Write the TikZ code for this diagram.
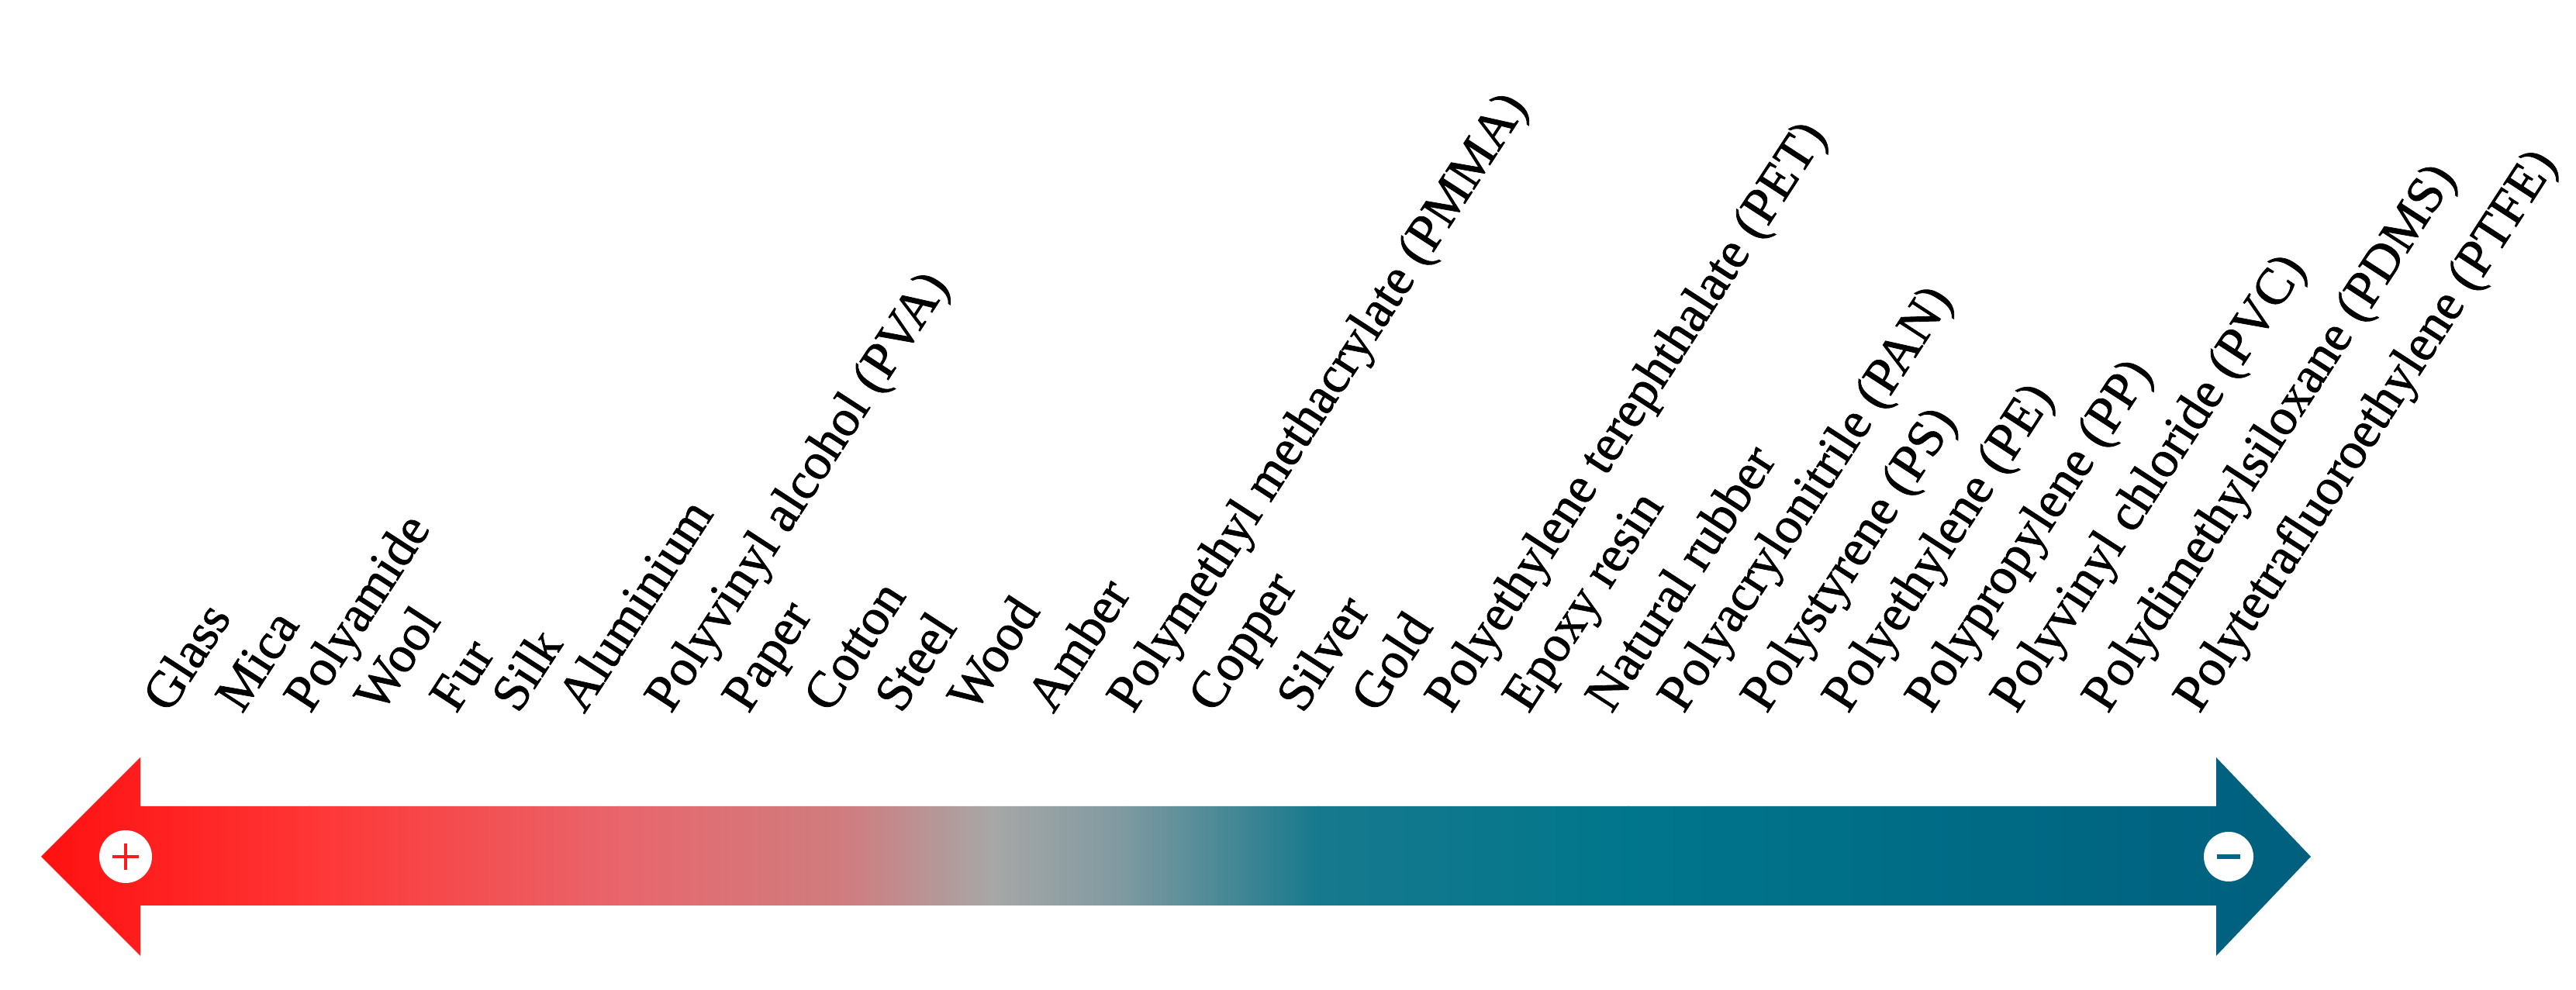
\documentclass[tikz,border=0pt]{standalone}
\usepackage{fontspec}
\newfontfamily\labfont{Liberation Serif}[FakeBold=1.2]
\definecolor{cA}{HTML}{FF1010}
\definecolor{cB}{HTML}{FF3535}
\definecolor{cC}{HTML}{E8666C}
\definecolor{cD}{HTML}{CE7E80}
\definecolor{cE}{HTML}{A7A7A7}
\definecolor{cF}{HTML}{7E99A0}
\definecolor{cG}{HTML}{17798D}
\definecolor{cH}{HTML}{00768C}
\definecolor{cI}{HTML}{005F7E}
\definecolor{plusred}{HTML}{FF1A1A}
\definecolor{minusteal}{HTML}{00678A}
\tikzset{
  lbl/.style={rotate=57, anchor=base west, inner sep=0pt, font=\labfont\fontsize{19}{20}\selectfont, text=black},
  signcircle/.style={circle, fill=white, draw=none, minimum size=0.68cm, inner sep=0pt}
}
\begin{document}
\begin{tikzpicture}
\useasboundingbox (0,0) rectangle (33.22,12.77);
% double arrow with gradient
\begin{scope}
\clip (0.53,1.72) -- (1.81,3.00) -- (1.81,2.37) -- (28.58,2.37) -- (28.58,3.00)
      -- (29.80,1.72) -- (28.58,0.44) -- (28.58,1.09) -- (1.81,1.09) -- (1.81,0.44) -- cycle;
\shade[left color=cA, right color=cB] (0.50,0.4) rectangle (4.00,3.05);
\shade[left color=cB, right color=cC] (3.99,0.4) rectangle (8.00,3.05);
\shade[left color=cC, right color=cD] (7.99,0.4) rectangle (11.00,3.05);
\shade[left color=cD, right color=cE] (10.99,0.4) rectangle (12.80,3.05);
\shade[left color=cE, right color=cF] (12.79,0.4) rectangle (14.50,3.05);
\shade[left color=cF, right color=cG] (14.49,0.4) rectangle (17.00,3.05);
\shade[left color=cG, right color=cH] (16.99,0.4) rectangle (21.00,3.05);
\shade[left color=cH, right color=cI] (20.99,0.4) rectangle (29.85,3.05);
\end{scope}
% signs
\node[signcircle] (plus) at (1.62,1.72) {};
\draw[plusred, line width=1.3pt] ([xshift=-0.17cm]plus.center) -- ([xshift=0.17cm]plus.center);
\draw[plusred, line width=1.3pt] ([yshift=-0.17cm]plus.center) -- ([yshift=0.17cm]plus.center);
\node[signcircle, minimum size=0.64cm] (minus) at (28.74,1.72) {};
\draw[minusteal, line width=1.6pt] ([xshift=-0.15cm]minus.center) -- ([xshift=0.15cm]minus.center);
% labels
\node[lbl] (l1) at (2.18,3.55) {Glass};
\node[lbl] (l2) at (3.12,3.55) {Mica};
\node[lbl] (l3) at (4.00,3.55) {Polyamide};
\node[lbl] (l4) at (4.91,3.55) {Wool};
\node[lbl] (l5) at (5.88,3.55) {Fur};
\node[lbl] (l6) at (6.68,3.55) {Silk};
\node[lbl] (l7) at (7.53,3.55) {Aluminium};
\node[lbl] (l8) at (8.65,3.55) {Polyvinyl alcohol (PVA)};
\node[lbl] (l9) at (9.65,3.55) {Paper};
\node[lbl] (l10) at (10.70,3.55) {Cotton};
\node[lbl] (l11) at (11.62,3.55) {Steel};
\node[lbl] (l12) at (12.56,3.55) {Wood};
\node[lbl] (l13) at (13.58,3.55) {Amber};
\node[lbl] (l14) at (14.61,3.55) {Polymethyl methacrylate (PMMA)};
\node[lbl] (l15) at (15.66,3.55) {Copper};
\node[lbl] (l16) at (16.80,3.55) {Silver};
\node[lbl] (l17) at (17.76,3.55) {Gold};
\node[lbl] (l18) at (18.71,3.55) {Polyethylene terephthalate (PET)};
\node[lbl] (l19) at (19.71,3.55) {Epoxy resin};
\node[lbl] (l20) at (20.78,3.55) {Natural rubber};
\node[lbl] (l21) at (21.71,3.55) {Polyacrylonitrile (PAN)};
\node[lbl] (l22) at (22.78,3.55) {Polystyrene (PS)};
\node[lbl] (l23) at (23.83,3.55) {Polyethylene (PE)};
\node[lbl] (l24) at (24.90,3.55) {Polypropylene (PP)};
\node[lbl] (l25) at (26.00,3.55) {Polyvinyl chloride (PVC)};
\node[lbl] (l26) at (27.18,3.55) {Polydimethylsiloxane (PDMS)};
\node[lbl] (l27) at (28.36,3.55) {Polytetrafluoroethylene (PTFE)};
\end{tikzpicture}
\end{document}
